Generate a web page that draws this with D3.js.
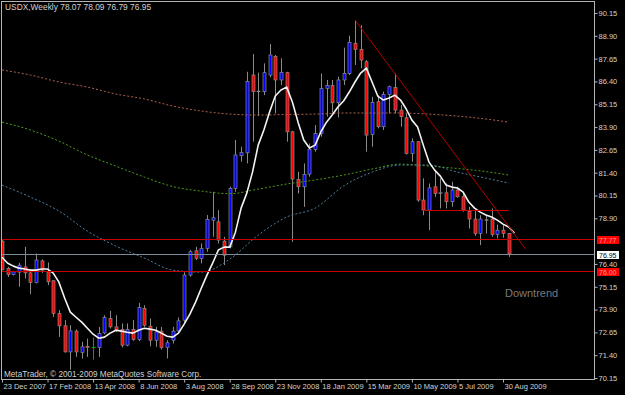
<!DOCTYPE html>
<html>
<head>
<meta charset="utf-8">
<script src="https://cdn.jsdelivr.net/npm/d3@7/dist/d3.min.js"></script>
<style>
  html, body { margin: 0; padding: 0; background: #000; }
  svg { display: block; }
  text { font-family: 'Liberation Sans Narrow', 'Liberation Sans', Arial, sans-serif; }
</style>
</head>
<body>
<div class="chart"></div>
<script>
// weekly USDX candles, week 0 = 23 Dec 2007
const opens = [77.65, 76.15, 75.82, 75.95, 76.24, 75.91, 75.38, 76.57, 75.97, 75.48,
  73.68, 73.01, 71.58, 72.72, 71.55, 71.89, 71.86, 71.82, 72.62, 73.41,
  72.95, 72.81, 71.95, 72.81, 72.26, 73.96, 72.99, 72.22, 72.72, 71.82,
  72.22, 72.73, 73.32, 75.79, 77.12, 76.70, 77.25, 78.80, 78.71, 77.65,
  77.34, 80.54, 82.33, 82.49, 86.75, 85.84, 85.84, 86.75, 87.76, 86.48,
  86.88, 83.64, 81.03, 80.63, 81.32, 82.68, 83.55, 86.02, 86.17, 85.23,
  86.48, 86.84, 88.49, 88.16, 87.48, 83.50, 85.29, 83.92, 85.69, 86.06,
  84.83, 84.41, 82.46, 83.10, 79.90, 79.35, 80.63, 80.26, 80.30, 79.81,
  80.45, 80.08, 79.29, 78.86, 78.07, 78.82, 78.86, 78.02, 78.25, 78.07];
const highs = [77.70, 76.24, 76.02, 76.46, 77.34, 75.97, 76.97, 76.65, 76.48, 75.51,
  73.87, 73.32, 73.04, 72.81, 72.13, 72.31, 72.37, 72.95, 73.59, 73.83,
  73.59, 73.14, 73.14, 73.32, 74.27, 74.14, 73.41, 72.95, 72.95, 72.22,
  72.95, 73.47, 75.95, 77.16, 77.34, 77.52, 79.08, 80.35, 79.35, 77.89,
  80.63, 83.19, 82.82, 86.93, 87.90, 86.88, 87.39, 88.45, 87.85, 87.67,
  86.93, 83.70, 81.45, 81.91, 83.00, 84.01, 86.84, 86.48, 86.48, 86.66,
  88.25, 88.91, 89.77, 89.49, 87.57, 85.56, 85.65, 85.84, 86.17, 86.84,
  85.11, 84.65, 83.28, 83.13, 81.09, 80.81, 81.45, 81.09, 80.81, 80.90,
  80.63, 80.35, 79.53, 79.35, 79.07, 79.07, 79.44, 78.56, 78.53, 78.09];
const lows = [76.05, 75.69, 75.77, 75.15, 75.60, 74.74, 75.33, 75.91, 75.24, 73.50,
  72.40, 71.55, 70.61, 71.31, 71.22, 71.31, 71.16, 71.31, 72.55, 72.86,
  72.68, 71.82, 71.89, 72.19, 72.17, 72.95, 71.89, 71.86, 71.71, 71.22,
  72.04, 72.59, 73.21, 75.70, 76.61, 76.43, 77.07, 77.89, 77.52, 76.34,
  77.25, 80.35, 82.00, 81.91, 83.10, 84.50, 85.65, 86.63, 84.65, 86.20,
  83.10, 77.61, 80.26, 79.53, 81.18, 82.55, 83.37, 84.47, 84.69, 84.43,
  86.20, 86.75, 87.30, 87.12, 82.55, 82.82, 83.83, 83.74, 84.65, 84.65,
  83.92, 82.40, 82.00, 79.81, 79.07, 78.25, 80.08, 79.44, 79.44, 79.53,
  80.03, 79.26, 78.34, 77.94, 77.43, 78.07, 77.89, 77.80, 77.83, 76.79];
const closes = [76.10, 75.82, 75.97, 76.33, 75.91, 75.38, 76.61, 76.06, 75.42, 73.68,
  73.01, 71.58, 72.73, 71.58, 71.86, 71.82, 71.86, 72.59, 73.47, 72.95,
  72.77, 71.95, 72.81, 72.26, 74.01, 73.04, 72.22, 72.68, 71.82, 72.08,
  72.72, 73.28, 75.79, 77.07, 76.70, 77.25, 78.84, 78.93, 77.71, 76.88,
  80.54, 82.37, 82.51, 86.39, 85.84, 85.87, 86.88, 87.85, 86.48, 86.90,
  83.64, 81.05, 80.63, 81.31, 82.68, 83.55, 86.02, 86.17, 85.23, 86.48,
  86.84, 88.54, 88.16, 87.57, 83.46, 85.25, 83.92, 85.69, 86.11, 84.83,
  84.47, 82.46, 83.10, 79.90, 79.35, 80.57, 80.26, 80.30, 79.81, 80.45,
  80.08, 79.35, 78.86, 78.07, 78.86, 78.80, 78.02, 78.25, 78.07, 76.95];

// white moving average (shifted one week forward), one value per week 0..90
const maFast = [76.77, 76.44, 76.28, 76.17, 76.12, 76.06, 76.06, 76.12, 76.12, 75.90,
  75.40, 74.53, 73.76, 73.48, 73.21, 72.88, 72.55, 72.33, 72.39, 72.61,
  72.77, 72.72, 72.66, 72.61, 72.77, 72.88, 72.83, 72.77, 72.61, 72.44,
  72.39, 72.61, 73.10, 73.65, 74.31, 75.07, 75.79, 76.44, 77.16, 77.32,
  77.32, 78.14, 79.46, 80.28, 81.43, 82.91, 83.74, 84.72, 85.60, 85.93,
  86.09, 85.27, 84.17, 83.19, 82.75, 82.91, 83.63, 84.17, 84.56, 85.00,
  85.33, 85.82, 86.37, 86.86, 87.13, 86.37, 85.60, 85.38, 85.49, 85.65,
  85.38, 84.89, 84.28, 83.90, 82.91, 81.98, 81.54, 81.21, 80.72, 80.61,
  80.56, 80.34, 79.79, 79.46, 79.24, 79.08, 78.97, 78.80, 78.58, 78.42, 78.09];

// dotted slow averages, read every 5 weeks
const maWeeks = [0, 5, 10, 15, 20, 25, 30, 35, 40, 45, 50, 55, 60, 65, 70, 75, 80, 85, 89];
const maSlowest = [87.03, 86.75, 86.37, 86.09, 85.71, 85.44, 85.05, 84.78, 84.61, 84.56,
  84.59, 84.61, 84.67, 84.67, 84.67, 84.61, 84.50, 84.34, 84.17];
const maSlow = [84.17, 83.74, 83.13, 82.37, 81.76, 81.16, 80.64, 80.39, 80.25, 80.50,
  80.78, 81.00, 81.27, 81.60, 81.87, 81.76, 81.63, 81.46, 81.27];
const maMid = [80.72, 80.06, 79.30, 78.20, 77.38, 76.72, 76.06, 75.95, 76.66, 77.98,
  78.97, 79.46, 80.67, 81.43, 81.82, 81.82, 81.43, 81.10, 80.83];

// drawn objects
const trendWeeks = [62, 92];
const trendPrices = [89.77, 77.20];
const levelPrices = [77.77, 76.95, 76.00];
const segmentWeeks = [74, 89];
const segmentPrice = 79.38;

// 77.65 sits under the 77.77 tag, so MetaTrader leaves it out
const priceTicks = [90.15, 88.90, 87.65, 86.40, 85.15, 83.90, 82.65, 81.40, 80.15, 78.90,
  76.40, 75.15, 73.90, 72.65, 71.40, 70.15];
const dateTickWeeks = [0, 8, 16, 24, 32, 40, 48, 56, 64, 72, 80, 88];
const dateTickLabels = ['23 Dec 2007', '17 Feb 2008', '13 Apr 2008', '8 Jun 2008', '3 Aug 2008',
  '28 Sep 2008', '23 Nov 2008', '18 Jan 2009', '15 Mar 2009', '10 May 2009', '5 Jul 2009', '30 Aug 2009'];

const width = 625;
const height = 395;
const plot = { left: 2, top: 2, right: 595, bottom: 380 };

const x = d3.scaleLinear().domain([0, 88]).range([2, 503]);
const y = d3.scaleLinear().domain([70.15, 90.15]).range([378, 13]);
const px = i => Math.round(x(i)) + 0.5;

const svg = d3.select('.chart').append('svg')
    .attr('width', width)
    .attr('height', height);

svg.append('rect')
    .attr('width', width)
    .attr('height', height)
    .attr('fill', '#000');

svg.append('defs').append('clipPath')
    .attr('id', 'clip')
  .append('rect')
    .attr('x', plot.left)
    .attr('y', plot.top)
    .attr('width', plot.right - plot.left)
    .attr('height', plot.bottom - plot.top);

const g = svg.append('g').attr('clip-path', 'url(#clip)');

// candles
const bars = opens.map((o, i) => ({ i, o, h: highs[i], l: lows[i], c: closes[i] }));

g.selectAll('.wick')
    .data(bars)
  .enter().append('line')
    .attr('class', 'wick')
    .attr('x1', d => px(d.i))
    .attr('x2', d => px(d.i))
    .attr('y1', d => y(d.h))
    .attr('y2', d => y(d.l))
    .attr('stroke', d => d.o === d.c ? '#00a800' : '#8a8a8a')
    .attr('stroke-width', 1);

g.selectAll('.body')
    .data(bars.filter(d => d.o !== d.c))
  .enter().append('rect')
    .attr('class', 'body')
    .attr('x', d => px(d.i) - 1.5)
    .attr('width', 3)
    .attr('y', d => y(Math.max(d.o, d.c)))
    .attr('height', d => Math.max(0.6, Math.abs(y(d.o) - y(d.c))))
    .attr('fill', d => d.c > d.o ? '#0000ff' : '#ff0000')
    .attr('stroke', '#8a8a8a')
    .attr('stroke-width', 0.7);

g.selectAll('.doji')
    .data(bars.filter(d => d.o === d.c))
  .enter().append('line')
    .attr('x1', d => px(d.i) - 2)
    .attr('x2', d => px(d.i) + 2)
    .attr('y1', d => Math.round(y(d.o)) + 0.5)
    .attr('y2', d => Math.round(y(d.o)) + 0.5)
    .attr('stroke', '#00a800');

// dotted averages
const slowLine = d3.line()
    .x((d, i) => x(maWeeks[i]))
    .y(d => y(d))
    .curve(d3.curveMonotoneX);

[[maSlowest, '#b0604a'], [maSlow, '#4e9a1c'], [maMid, '#4f7e9c']].forEach(([vals, col]) => {
  g.append('path')
      .datum(vals)
      .attr('d', slowLine)
      .attr('fill', 'none')
      .attr('stroke', col)
      .attr('stroke-width', 1)
      .attr('stroke-dasharray', '2,2');
});

// fast average
g.append('path')
    .datum(maFast)
    .attr('d', d3.line().x((d, i) => x(i)).y(d => y(d)))
    .attr('fill', 'none')
    .attr('stroke', '#f4f4f4')
    .attr('stroke-width', 1.6)
    .attr('stroke-linejoin', 'round');

// horizontal levels
g.selectAll('.level')
    .data(levelPrices)
  .enter().append('line')
    .attr('x1', plot.left)
    .attr('x2', plot.right)
    .attr('y1', d => Math.round(y(d)) + 0.5)
    .attr('y2', d => Math.round(y(d)) + 0.5)
    .attr('stroke', (d, i) => i === 1 ? '#7d8c99' : '#c80000');

g.append('line')
    .attr('x1', x(segmentWeeks[0]))
    .attr('x2', x(segmentWeeks[1]))
    .attr('y1', Math.round(y(segmentPrice)) + 0.5)
    .attr('y2', Math.round(y(segmentPrice)) + 0.5)
    .attr('stroke', '#c80000');

g.append('line')
    .attr('x1', x(trendWeeks[0]))
    .attr('x2', x(trendWeeks[1]))
    .attr('y1', y(trendPrices[0]))
    .attr('y2', y(trendPrices[1]))
    .attr('stroke', '#b40000');

// frame
svg.append('rect')
    .attr('x', plot.left - 0.5)
    .attr('y', plot.top - 0.5)
    .attr('width', plot.right - plot.left)
    .attr('height', plot.bottom - plot.top)
    .attr('fill', 'none')
    .attr('stroke', '#b4b4b4');

// price axis
const yAxis = svg.append('g')
    .attr('transform', `translate(${plot.right - 0.5}, 0)`)
    .call(d3.axisRight(y).tickValues(priceTicks).tickSize(3).tickFormat(d3.format('.2f')));
yAxis.select('.domain').remove();
yAxis.selectAll('line').attr('stroke', '#b4b4b4');
yAxis.selectAll('text')
    .attr('x', 4)
    .attr('fill', '#d2d2d2')
    .style('font-size', '7.5px')
    .style('font-family', null);

// date axis
const xAxis = svg.append('g')
    .attr('transform', `translate(0, ${plot.bottom - 0.5})`)
    .call(d3.axisBottom(x).tickValues(dateTickWeeks).tickSize(3)
      .tickFormat((d, i) => dateTickLabels[i]));
xAxis.select('.domain').remove();
xAxis.selectAll('line').attr('stroke', '#b4b4b4');
xAxis.selectAll('text')
    .attr('text-anchor', 'start')
    .attr('x', 1)
    .attr('y', 4)
    .attr('fill', '#d2d2d2')
    .style('font-size', '7.5px')
    .style('font-family', null);

// price tags on the axis
const tags = [
  { price: levelPrices[0], fill: '#ff0000', text: '#ff9a9a' },
  { price: levelPrices[1], fill: '#ffffff', text: '#000000' },
  { price: levelPrices[2], fill: '#ff0000', text: '#ff9a9a' },
];
const tag = svg.selectAll('.tag')
    .data(tags)
  .enter().append('g')
    .attr('transform', d => `translate(597, ${Math.round(y(d.price)) - 3})`);
tag.append('rect')
    .attr('width', 22)
    .attr('height', 8)
    .attr('fill', d => d.fill);
tag.append('text')
    .attr('x', 2)
    .attr('y', 6.5)
    .attr('fill', d => d.text)
    .style('font-size', '7px')
    .text(d => d3.format('.2f')(d.price));

// captions
svg.append('text')
    .attr('x', 5)
    .attr('y', 10)
    .attr('fill', '#d2d2d2')
    .style('font-size', '8.4px')
    .text(`USDX,Weekly  ${opens[89].toFixed(2)} ${highs[89].toFixed(2)} ${lows[89].toFixed(2)} ${closes[89].toFixed(2)}`);

svg.append('text')
    .attr('x', 4)
    .attr('y', 377)
    .attr('fill', '#d2d2d2')
    .style('font-size', '8.2px')
    .text('MetaTrader, \u00a9 2001-2009 MetaQuotes Software Corp.');

svg.append('text')
    .attr('x', 505)
    .attr('y', 297)
    .attr('fill', '#7a7a7a')
    .style('font-family', "'Liberation Sans', Arial, sans-serif")
    .style('font-size', '11px')
    .text('Downtrend');
</script>
</body>
</html>
